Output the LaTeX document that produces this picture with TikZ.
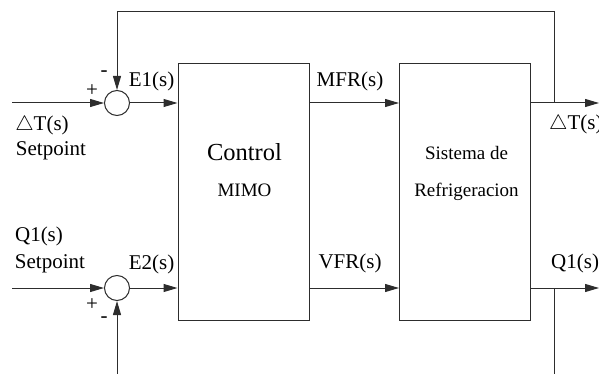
\documentclass[tikz,border=0pt]{standalone}
\usepackage{fontspec}
\setmainfont{Liberation Serif}
\usetikzlibrary{arrows.meta,positioning}
\definecolor{wire}{RGB}{45,45,45}
\tikzset{
  sig/.style={-{Triangle[length=14pt,width=8pt]},wire,line width=1pt},
  plain/.style={wire,line width=1pt},
  blk/.style={draw=wire,line width=1pt,minimum width=131pt,minimum height=256pt,inner sep=0pt},
  sumpt/.style={draw=wire,circle,line width=1pt,minimum size=25pt,inner sep=0pt},
  lbl/.style={font=\fontsize{21}{23}\selectfont,inner sep=0pt},
  inlbl/.style={font=\fontsize{19}{21}\selectfont,inner sep=0pt},
  sgn/.style={font=\fontsize{21}{23}\selectfont,inner sep=0pt}
}

\begin{document}
\begin{tikzpicture}[x=1pt,y=-1pt]
  \useasboundingbox (0,0) rectangle (599,374);
  % blocks and summing points
  \node[blk] (ctrl) at (243.5,192) {};
  \node[blk] (plant) at (465,192) {};
  \node[sumpt] (s1) at (117,103) {};
  \node[sumpt] (s2) at (117,288) {};
  \node[font=\fontsize{24.5}{26}\selectfont,inner sep=0pt] (ctrltxt) at (244.5,152) {Control};
  \node[inlbl] (mimo) at (244.5,190) {MIMO};
  \node[inlbl] (plant1) at (466.5,153) {Sistema de};
  \node[inlbl] (plant2) at (466.5,192) {Refrigeracion};
  % free ends
  \coordinate (in1) at (12,103);
  \coordinate (in2) at (12,288);
  \coordinate (out1) at (599,103);
  \coordinate (out2) at (599,288);
  \coordinate (fb1) at (554,103);
  \coordinate (fb2) at (554,288);
  \coordinate (up1) at (554,12);
  \coordinate (dn1) at (117,374);
  \coordinate (dn2) at (554,374);
  % signals
  \draw[sig] (in1) -- (s1);
  \draw[sig] (in2) -- (s2);
  \draw[sig] (s1) -- (ctrl.west |- s1);
  \draw[sig] (s2) -- (ctrl.west |- s2);
  \draw[sig] (ctrl.east |- s1) -- (plant.west |- s1);
  \draw[sig] (ctrl.east |- s2) -- (plant.west |- s2);
  \draw[sig] (plant.east |- s1) -- (out1);
  \draw[sig] (plant.east |- s2) -- (out2);
  \draw[sig] (fb1) -- (up1) -| (s1);
  \draw[plain] (fb2) -- (dn2);
  \draw[sig] (dn1) -- (s2);
  % labels
  \node[lbl] (e1) at (151.5,81) {E1(s)};
  \node[lbl] (e2) at (151.5,264) {E2(s)};
  \node[sgn] (p1) at (92,91) {+};
  \node[sgn] (m1) at (104,74) {-};
  \node[sgn] (p2) at (92,305) {+};
  \node[sgn] (m2) at (104,320) {-};
  \node[lbl] (dt) at (42,125) {$\triangle$T(s)};
  \node[lbl] (sp1) at (51,151) {Setpoint};
  \node[lbl] (q1) at (39,236) {Q1(s)};
  \node[lbl] (sp2) at (50,264) {Setpoint};
  \node[lbl] (mfr) at (350,81) {MFR(s)};
  \node[lbl] (vfr) at (350,263) {VFR(s)};
  \node[lbl,anchor=west] (dtout) at (549,124) {$\triangle$T(s)};
  \node[lbl,anchor=west] (q1out) at (551,263) {Q1(s)};
\end{tikzpicture}
\end{document}
